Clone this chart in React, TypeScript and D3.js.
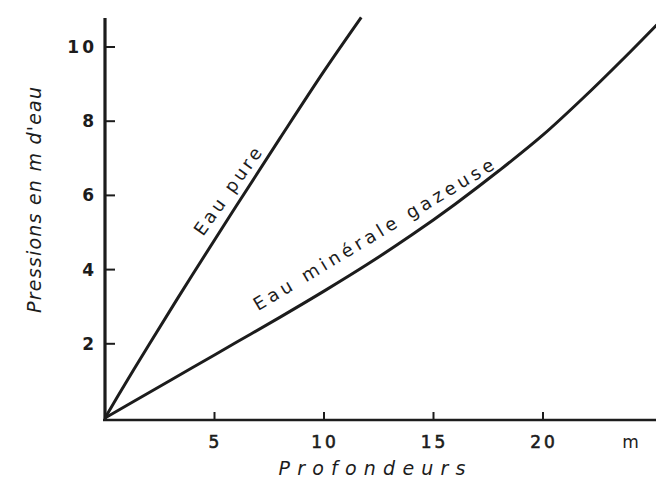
import React from "react";
import * as d3 from "d3";

// ---- data ----
const depthTicks = [5, 10, 15, 20];
const pressureTicks = [2, 4, 6, 8, 10];
const depthUnit = "m";
const xTitle = "Profondeurs";
const yTitle = "Pressions en m d'eau";

const pureDepth = [0, 1, 2, 4, 6, 8, 10, 11.7];
const purePressure = [0, 1.0, 1.97, 3.87, 5.72, 7.55, 9.35, 10.8];
const pureLabel = "Eau pure";

const gazDepth = [0, 2, 4, 6, 8, 10, 12, 14, 16, 18, 20, 22, 24, 25.2];
const gazPressure = [0, 0.68, 1.36, 2.04, 2.72, 3.42, 4.15, 4.93, 5.77, 6.67, 7.63, 8.72, 9.88, 10.6];
const gazLabel = "Eau minérale gazeuse";

const W = 656;
const H = 478;
const INK = "#1c1c1c";
const FONT = "'DejaVu Sans', sans-serif";

export default function App() {
  const x = d3.scaleLinear().domain([0, 20]).range([105, 543]);
  const y = d3.scaleLinear().domain([0, 10]).range([418, 47]);

  const line = d3
    .line<[number, number]>()
    .x((d) => x(d[0]))
    .y((d) => y(d[1]))
    .curve(d3.curveCatmullRom.alpha(0.5));

  const pureData = pureDepth.map((d, i) => [d, purePressure[i]] as [number, number]);
  const gazData = gazDepth.map((d, i) => [d, gazPressure[i]] as [number, number]);

  const x0 = x(0);
  const yAxisY = y(0) + 2;

  // label anchors in data space
  const pureAnchor = [4.47, 4.88];
  const gazAnchor = [6.99, 2.88];

  return (
    <svg
      width={W}
      height={H}
      viewBox={`0 0 ${W} ${H}`}
      style={{ position: "absolute", left: 0, top: 0, background: "#fff" }}
    >
      <rect x={0} y={0} width={W} height={H} fill="#fff" />

      {/* axes */}
      <line x1={x0} y1={yAxisY + 1} x2={x0} y2={y(10.78)} stroke={INK} strokeWidth={3.2} />
      <line x1={x0 - 2} y1={yAxisY} x2={W} y2={yAxisY} stroke={INK} strokeWidth={2.6} />

      {/* y ticks */}
      {pressureTicks.map((v) => (
        <g key={"yt" + v}>
          <line x1={x0} x2={x0 + 10} y1={y(v)} y2={y(v)} stroke={INK} strokeWidth={2} />
          <text
            x={97}
            y={y(v)}
            textAnchor="end"
            dominantBaseline="central"
            fontFamily={FONT}
            fontWeight="bold"
            fontSize={17}
            letterSpacing={3}
            fill={INK}
          >
            {v}
          </text>
        </g>
      ))}

      {/* x ticks */}
      {depthTicks.map((v) => (
        <g key={"xt" + v}>
          <line x1={x(v)} x2={x(v)} y1={yAxisY} y2={yAxisY - 8} stroke={INK} strokeWidth={2} />
          <text
            x={x(v) + 1}
            y={442}
            textAnchor="middle"
            dominantBaseline="central"
            fontFamily={FONT}
            fontSize={17}
            letterSpacing={3}
            stroke={INK}
            strokeWidth={0.6}
            fill={INK}
          >
            {v}
          </text>
        </g>
      ))}
      <text
        x={x(24)}
        y={442}
        textAnchor="middle"
        dominantBaseline="central"
        fontFamily={FONT}
        fontSize={17}
        fill={INK}
      >
        {depthUnit}
      </text>

      {/* axis titles */}
      <text
        x={372}
        y={475}
        textAnchor="middle"
        fontFamily={FONT}
        fontStyle="italic"
        fontSize={19}
        textLength={187}
        lengthAdjust="spacing"
        fill={INK}
      >
        {xTitle}
      </text>
      <text
        transform={`translate(41,200) rotate(-90)`}
        textAnchor="middle"
        fontFamily={FONT}
        fontStyle="italic"
        fontSize={19}
        textLength={226}
        lengthAdjust="spacing"
        fill={INK}
      >
        {yTitle}
      </text>

      {/* curves */}
      <path d={line(pureData) || ""} fill="none" stroke={INK} strokeWidth={3} />
      <path d={line(gazData) || ""} fill="none" stroke={INK} strokeWidth={3} />

      {/* curve labels */}
      <text
        transform={`translate(${x(pureAnchor[0])},${y(pureAnchor[1])}) rotate(-54.5)`}
        fontFamily={FONT}
        fontSize={18}
        textLength={103}
        lengthAdjust="spacing"
        fill={INK}
      >
        {pureLabel}
      </text>
      <text
        transform={`translate(${x(gazAnchor[0])},${y(gazAnchor[1])}) rotate(-31)`}
        fontFamily={FONT}
        fontSize={18}
        textLength={277}
        lengthAdjust="spacing"
        fill={INK}
      >
        {gazLabel}
      </text>
    </svg>
  );
}
